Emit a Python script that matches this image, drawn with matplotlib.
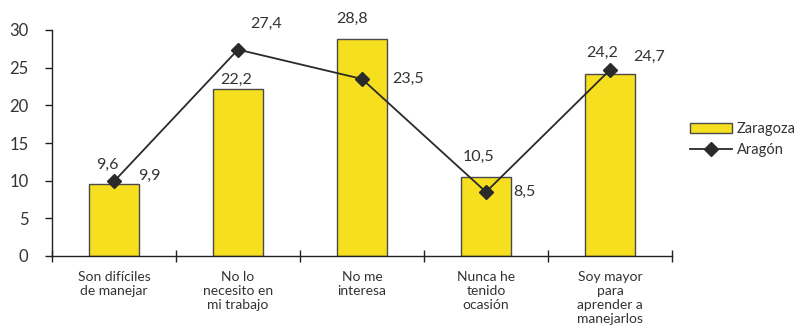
import matplotlib
matplotlib.use('Agg')
import matplotlib.pyplot as plt
import numpy as np

categorias = ['Son difíciles\nde manejar', 'No lo\nnecesito en\nmi trabajo', 'No me\ninteresa',
              'Nunca he\ntenido\nocasión', 'Soy mayor\npara\naprender a\nmanejarlos']
zaragoza = [9.6, 22.2, 28.8, 10.5, 24.2]
aragon = [9.9, 27.4, 23.5, 8.5, 24.7]
y_ticks = [0, 5, 10, 15, 20, 25, 30]

# label offsets in pixels (dx, dy), tuned by eye
off_bar = [(-7, 19), (-2, 9), (-10, 20), (-8, 20), (-8, 21)]
off_line = [(24, 6), (12, 26), (30, 0), (27, 0), (23, 13)]

plt.rcParams['font.family'] = ['Lato', 'DejaVu Sans']
texto = '#333333'

fig = plt.figure(figsize=(8.08, 3.33), dpi=100)
ax = fig.add_axes([52 / 808, 1 - 256 / 333, 620 / 808, 226 / 333])

x = np.arange(len(categorias))
barras = ax.bar(x, zaragoza, width=0.41, color='#f6df1f', edgecolor='#4a4a4a', linewidth=1.0,
                label='Zaragoza', zorder=2)
linea, = ax.plot(x, aragon, color='#2a2a2a', linewidth=1.3, marker='D', markersize=7,
                 markerfacecolor='#2a2a2a', markeredgecolor='#2a2a2a', label='Aragón', zorder=3)

fmt = lambda v: f'{v:.1f}'.replace('.', ',')
for i in range(len(x)):
    ax.annotate(fmt(zaragoza[i]), (x[i], zaragoza[i]), xytext=off_bar[i],
                textcoords='offset pixels', ha='center', va='center',
                fontsize=11.5, color=texto, zorder=4)
    ax.annotate(fmt(aragon[i]), (x[i], aragon[i]), xytext=off_line[i],
                textcoords='offset pixels', ha='left', va='center',
                fontsize=11.5, color=texto, zorder=4)

ax.set_xlim(-0.5, len(categorias) - 0.5)
ax.set_ylim(0, 30)
ax.set_yticks(y_ticks)
ax.set_yticklabels([str(t) for t in y_ticks], fontsize=12, color=texto)
ax.set_xticks(np.arange(len(categorias) + 1) - 0.5)
ax.set_xticklabels([])
ax.set_xticks(x, minor=True)
ax.set_xticklabels(categorias, minor=True, fontsize=10, color=texto, va='top', linespacing=1.2)
ax.tick_params(axis='x', which='minor', length=0, pad=11)
ax.tick_params(axis='x', which='major', direction='inout', length=8, width=1, color='#222222')
ax.tick_params(axis='y', direction='out', length=5, width=1, color='#222222', pad=12)

for s in ['top', 'right']:
    ax.spines[s].set_visible(False)
for s in ['left', 'bottom']:
    ax.spines[s].set_color('#222222')
    ax.spines[s].set_linewidth(1)

fig.legend([barras, linea], ['Zaragoza', 'Aragón'], loc='upper left',
           bbox_to_anchor=(684 / 808, 1 - 116 / 333), frameon=False, fontsize=10.5,
           handlelength=2.9, handleheight=0.7, handletextpad=0.3, labelspacing=0.5,
           labelcolor=texto, borderaxespad=0)

fig.savefig('out.png', dpi=100)
